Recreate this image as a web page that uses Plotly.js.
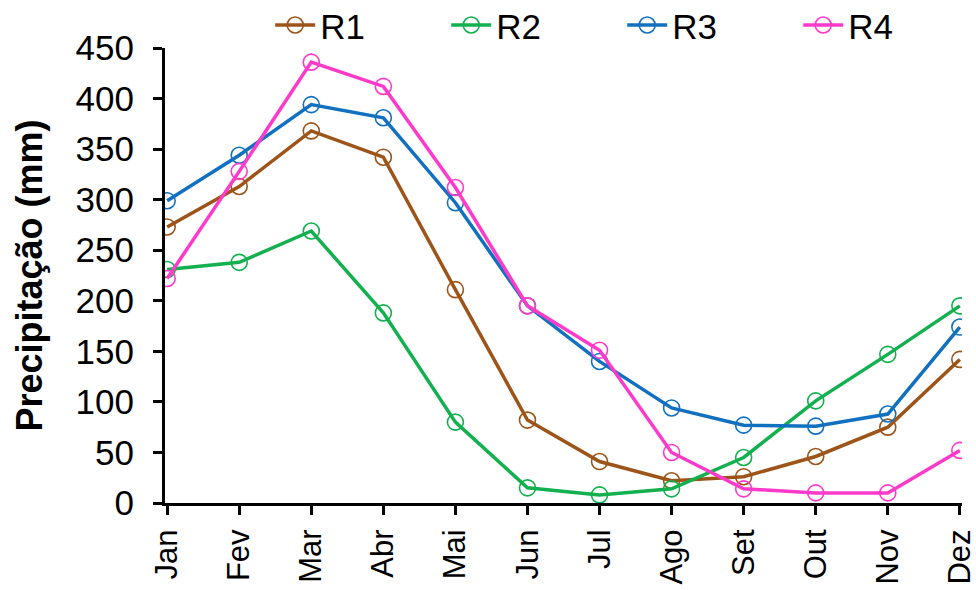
<!DOCTYPE html>
<html>
<head>
<meta charset="utf-8">
<script src="https://cdn.plot.ly/plotly-3.0.1.min.js"></script>
<style>html,body{margin:0;padding:0;background:#fff;}#chart{width:976px;height:590px;}</style>
</head>
<body>
<div id="chart"></div>
<script>
const months = ["Jan","Fev","Mar","Abr","Mai","Jun","Jul","Ago","Set","Out","Nov","Dez"];
const seriesNames = ["R1","R2","R3","R4"];
const R1 = [273, 313, 368, 342, 211, 82, 41, 22, 26, 46, 75, 142];
const R2 = [231, 238, 269, 188, 80, 15, 8, 14, 45, 101, 147, 195];
const R3 = [299, 344, 394, 381, 297, 195, 140, 94, 77, 76, 88, 174];
const R4 = [222, 328, 436, 412, 312, 195, 151, 50, 14, 10, 10, 52];
const yTicks = [0, 50, 100, 150, 200, 250, 300, 350, 400, 450];
const colors = ["#9C5418", "#12B04E", "#1170C0", "#FF3ACB"];

const data = [R1, R2, R3, R4].map((vals, i) => ({
  type: "scatter",
  mode: "lines+markers",
  name: seriesNames[i],
  x: months,
  y: vals,
  line: {color: colors[i], width: 3.5},
  marker: {symbol: "circle-open", size: 16, color: colors[i], line: {width: 1.6, color: colors[i]}}
}));

const font = "Liberation Sans, Arial, sans-serif";
const layout = {
  width: 976, height: 590,
  margin: {l: 165, r: 14, t: 48, b: 87, autoexpand: false},
  paper_bgcolor: "#fff", plot_bgcolor: "#fff",
  showlegend: true,
  legend: {
    orientation: "h", x: 0.132, xanchor: "left", y: 1.05, yanchor: "middle",
    font: {family: font, size: 35, color: "#000"},
    entrywidth: 121, entrywidthmode: "pixels",
    itemwidth: 40, tracegroupgap: 0, bgcolor: "rgba(0,0,0,0)"
  },
  xaxis: {
    type: "category",
    range: [-0.03, 11.03],
    showline: true, linecolor: "#000", linewidth: 3,
    ticks: "outside", ticklen: 9, tickwidth: 3, tickcolor: "#000",
    tickangle: -90, ticklabelstandoff: 2,
    tickfont: {family: font, size: 31, color: "#000"},
    showgrid: false, zeroline: false, fixedrange: true
  },
  yaxis: {
    range: [0, 450],
    tickvals: yTicks,
    ticktext: yTicks.map(String),
    showline: true, linecolor: "#000", linewidth: 3,
    ticks: "outside", ticklen: 9, tickwidth: 3, tickcolor: "#000",
    ticklabelstandoff: 12,
    tickfont: {family: font, size: 35, color: "#000"},
    showgrid: false, zeroline: false,
    title: {text: "<b>Precipitação (mm)</b>", font: {family: font, size: 36, color: "#000"}, standoff: 22},
    fixedrange: true
  }
};

Plotly.newPlot("chart", data, layout, {displayModeBar: false, staticPlot: true});
</script>
</body>
</html>
